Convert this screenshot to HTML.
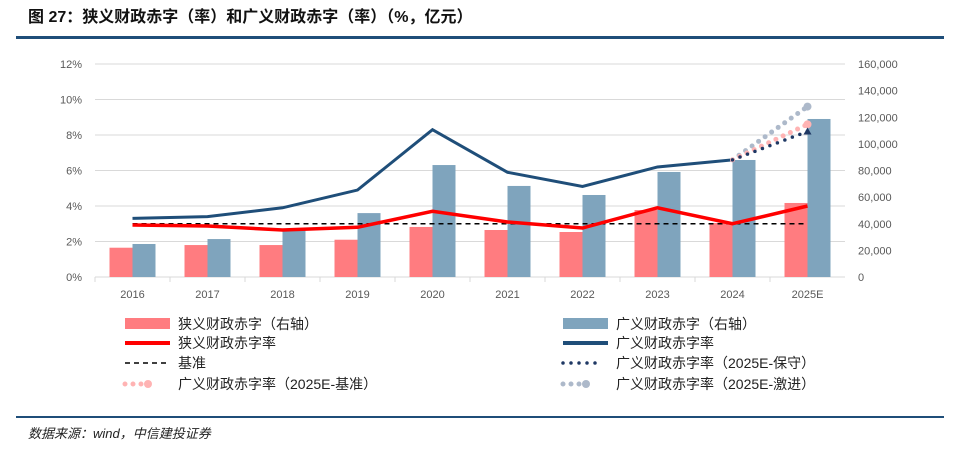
<!DOCTYPE html>
<html><head><meta charset="utf-8"><style>
body{margin:0;background:#fff;width:960px;height:449px;overflow:hidden;font-family:"Liberation Sans","Noto Sans CJK SC",sans-serif}
</style></head><body>
<svg id="c" width="960" height="449" xmlns="http://www.w3.org/2000/svg">
<text x="28" y="22" font-size="16" font-weight="bold" fill="#111" font-family="Liberation Sans,Noto Sans CJK SC,sans-serif">图 27：狭义财政赤字（率）和广义财政赤字（率）（%，亿元）</text>
<rect x="16" y="36" width="928" height="3" fill="#1f4e79"/>
<g id="grid"></g><g id="bars"></g><g id="lines"></g><g id="axes"></g><g id="legend"></g>
<rect x="16" y="416" width="928" height="2" fill="#1f4e79"/>
<text x="28" y="438" font-size="13" font-style="italic" fill="#222" font-family="Liberation Sans,Noto Sans CJK SC,sans-serif">数据来源：wind，中信建投证券</text>
</svg>
<script>
const categories=["2016","2017","2018","2019","2020","2021","2022","2023","2024","2025E"];
const narrowDeficit=[22000,24000,24000,28000,37600,35300,33800,50300,40600,55600];
const broadDeficit=[24800,28500,36000,48000,84100,68400,61600,78900,87900,118700];
const narrowRate=[2.93,2.87,2.65,2.8,3.7,3.1,2.76,3.9,3.0,4.0];
const broadRate=[3.3,3.4,3.9,4.9,8.3,5.9,5.1,6.2,6.6];
const benchmark=3.0;
const conservative2025=8.2, baseline2025=8.6, aggressive2025=9.6;
const leftTicks=["0%","2%","4%","6%","8%","10%","12%"];
const rightTicks=["0","20,000","40,000","60,000","80,000","100,000","120,000","140,000","160,000"];

const NS="http://www.w3.org/2000/svg";
const x0=95,x1=845,yB=277,yT=64;
const band=(x1-x0)/categories.length;
const xc=i=>x0+band*(i+0.5);
const yL=v=>yB-(v/12)*(yB-yT);
const yR=v=>yB-(v/160000)*(yB-yT);
function mk(parent,tag,attrs){const e=document.createElementNS(NS,tag);for(const k in attrs)e.setAttribute(k,attrs[k]);document.getElementById(parent).appendChild(e);return e;}
const font="Liberation Sans,sans-serif";
leftTicks.forEach((t,i)=>{
  const y=yL(i*2);
  const g=mk("grid","line",{x1:x0,x2:x1,y1:y,y2:y,stroke:"#d9d9d9","stroke-width":1});
  
  
  const tx=mk("axes","text",{x:82,y:y+4,"font-size":11,fill:"#595959","text-anchor":"end","font-family":font});
  tx.textContent=t;
  
  
});
rightTicks.forEach((t,i)=>{
  const tx=mk("axes","text",{x:858,y:yR(i*20000)+4,"font-size":11,fill:"#595959","font-family":font});
  tx.textContent=t;
  
  
});
categories.forEach((c,i)=>{
  const tx=mk("axes","text",{x:xc(i),y:298,"font-size":11,fill:"#595959","text-anchor":"middle","font-family":font});
  tx.textContent=c;
  
  
  const tk=mk("axes","line",{x1:x0+band*i,x2:x0+band*i,y1:yB,y2:yB+5,stroke:"#d9d9d9"});
  
  
  const r=mk("bars","rect",{x:xc(i)-23,y:yR(narrowDeficit[i]),width:23,height:yB-yR(narrowDeficit[i]),fill:"#ff7c80"});
  
  
  const b=mk("bars","rect",{x:xc(i),y:yR(broadDeficit[i]),width:23,height:yB-yR(broadDeficit[i]),fill:"#7fa4bd"});
  
  
});
const bl=mk("lines","line",{x1:xc(0),x2:xc(9),y1:yL(benchmark),y2:yL(benchmark),stroke:"#000","stroke-width":1.5,"stroke-dasharray":"5,4"});


const bp=mk("lines","polyline",{points:broadRate.map((v,i)=>xc(i)+","+yL(v)).join(" "),fill:"none",stroke:"#1f4e79","stroke-width":3});


const np=mk("lines","polyline",{points:narrowRate.map((v,i)=>xc(i)+","+yL(v)).join(" "),fill:"none",stroke:"#ff0000","stroke-width":3.5});


const last=broadRate.length-1;
[[aggressive2025,"#adb9ca",5,'aggressive-projection'],[baseline2025,"#ffb3b3",5,'baseline-projection'],[conservative2025,"#1f3864",3.5,'conservative-projection']].forEach(p=>{
  const l=mk("lines","line",{x1:xc(last),y1:yL(broadRate[last]),x2:xc(9),y2:yL(p[0]),stroke:p[1],"stroke-width":p[2],"stroke-linecap":"round","stroke-dasharray":"0,8"});
  
  
  let m;
  if(p[3]==='conservative-projection'){
    const cx=xc(9),cy=yL(p[0]);
    m=mk("lines","polygon",{points:(cx-4)+","+(cy+3)+" "+(cx+4)+","+(cy+3)+" "+cx+","+(cy-4),fill:p[1]});
  } else {
    m=mk("lines","circle",{cx:xc(9),cy:yL(p[0]),r:4,fill:p[1]});
  }
  
  
});
</script>
<svg style="position:absolute;left:0;top:0" width="960" height="449">
<g font-family="Liberation Sans,Noto Sans CJK SC,sans-serif" font-size="14" fill="#222">
<rect x="125" y="318" width="45" height="11" fill="#ff7c80"/>
<text x="178" y="329">狭义财政赤字（右轴）</text>
<line x1="125" x2="170" y1="343" y2="343" stroke="#ff0000" stroke-width="4"/>
<text x="178" y="348">狭义财政赤字率</text>
<line x1="125" x2="170" y1="363" y2="363" stroke="#000" stroke-width="1.5" stroke-dasharray="5,4"/>
<text x="178" y="368">基准</text>
<line x1="125" x2="150" y1="384" y2="384" stroke="#ffb3b3" stroke-width="5" stroke-linecap="round" stroke-dasharray="0,8"/>
<circle cx="148" cy="384" r="4" fill="#ffb3b3"/>
<text x="178" y="389">广义财政赤字率（2025E-基准）</text>
<rect x="563" y="318" width="45" height="11" fill="#7fa4bd"/>
<text x="616" y="329">广义财政赤字（右轴）</text>
<line x1="563" x2="608" y1="343" y2="343" stroke="#1f4e79" stroke-width="4"/>
<text x="616" y="348">广义财政赤字率</text>
<line x1="563" x2="600" y1="363" y2="363" stroke="#1f3864" stroke-width="3.5" stroke-linecap="round" stroke-dasharray="0,8"/>
<text x="616" y="368">广义财政赤字率（2025E-保守）</text>
<line x1="563" x2="590" y1="384" y2="384" stroke="#adb9ca" stroke-width="5" stroke-linecap="round" stroke-dasharray="0,8"/>
<circle cx="586" cy="384" r="4" fill="#adb9ca"/>
<text x="616" y="389">广义财政赤字率（2025E-激进）</text>
</g></svg>
</body></html>
